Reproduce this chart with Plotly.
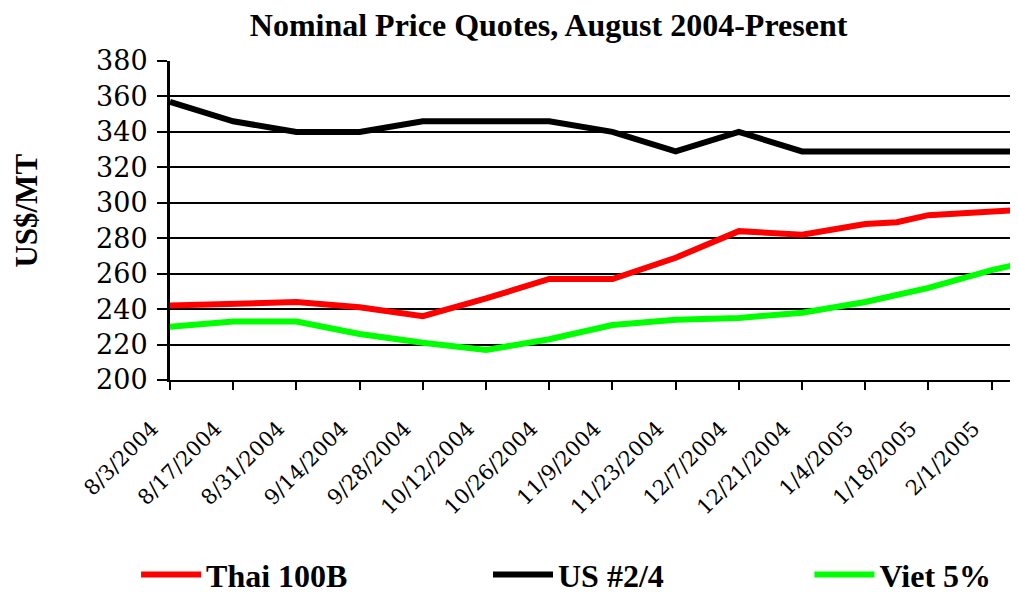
import plotly.graph_objects as go

# Data
us_dates = ["2004-08-03", "2004-08-17", "2004-08-31", "2004-09-14", "2004-09-28",
            "2004-10-12", "2004-10-26", "2004-11-09", "2004-11-23", "2004-12-07",
            "2004-12-21", "2005-01-04", "2005-01-18", "2005-02-01", "2005-02-08"]
us_values = [357, 346, 340, 340, 346, 346, 346, 340, 329, 340, 329, 329, 329, 329, 329]

thai_dates = ["2004-08-03", "2004-08-17", "2004-08-31", "2004-09-14", "2004-09-28",
              "2004-10-12", "2004-10-26", "2004-11-09", "2004-11-23", "2004-12-07",
              "2004-12-21", "2005-01-04", "2005-01-11", "2005-01-18", "2005-02-01",
              "2005-02-08"]
thai_values = [242, 243, 244, 241, 236, 246, 257, 257, 269, 284, 282, 288, 289, 293, 295, 296]

viet_dates = ["2004-08-03", "2004-08-17", "2004-08-31", "2004-09-14", "2004-09-28",
              "2004-10-12", "2004-10-26", "2004-11-09", "2004-11-23", "2004-12-07",
              "2004-12-21", "2005-01-04", "2005-01-18", "2005-02-01", "2005-02-08"]
viet_values = [230, 233, 233, 226, 221, 217, 223, 231, 234, 235, 238, 244, 252, 262, 266]

tick_dates = ["2004-08-03", "2004-08-17", "2004-08-31", "2004-09-14", "2004-09-28",
              "2004-10-12", "2004-10-26", "2004-11-09", "2004-11-23", "2004-12-07",
              "2004-12-21", "2005-01-04", "2005-01-18", "2005-02-01"]
tick_labels = ["8/3/2004", "8/17/2004", "8/31/2004", "9/14/2004", "9/28/2004",
               "10/12/2004", "10/26/2004", "11/9/2004", "11/23/2004", "12/7/2004",
               "12/21/2004", "1/4/2005", "1/18/2005", "2/1/2005"]

title_text = "Nominal Price Quotes, August 2004-Present"
y_title = "US$/MT"

FONT_BOLD = "Liberation Serif, Times New Roman, serif"
FONT_REG = "DejaVu Serif, serif"

fig = go.Figure()
fig.add_trace(go.Scatter(x=thai_dates, y=thai_values, mode="lines", name="<b>Thai 100B</b>",
                         line=dict(color="#FF0000", width=6), legend="legend"))
fig.add_trace(go.Scatter(x=us_dates, y=us_values, mode="lines", name="<b>US #2/4</b>",
                         line=dict(color="#000000", width=6), legend="legend2"))
fig.add_trace(go.Scatter(x=viet_dates, y=viet_values, mode="lines", name="<b>Viet 5%</b>",
                         line=dict(color="#00FF00", width=6), legend="legend3"))

legend_common = dict(orientation="h", yanchor="middle", y=-0.61, xanchor="left",
                      font=dict(family=FONT_BOLD, size=32, color="black"),
                      bgcolor="rgba(0,0,0,0)", itemwidth=60)

fig.update_layout(
    width=1018, height=592,
    margin=dict(l=162, r=8, t=53, b=220, autoexpand=False),
    paper_bgcolor="white", plot_bgcolor="white",
    font=dict(family=FONT_BOLD, color="black"),
    title=dict(text="<b>" + title_text + "</b>", x=0.531, xref="container", xanchor="center",
               y=0.972, yref="container", yanchor="middle",
               font=dict(family=FONT_BOLD, size=32, color="black")),
    showlegend=True,
    legend=dict(x=-0.04, **legend_common),
    legend2=dict(x=0.375, **legend_common),
    legend3=dict(x=0.754, **legend_common),
    xaxis=dict(type="date", range=["2004-08-03", "2005-02-06 20:00"],
               tickmode="array", tickvals=tick_dates, ticktext=tick_labels,
               tickangle=-45, tickfont=dict(family=FONT_REG, size=21, color="black"),
               ticks="outside", ticklen=8, tickwidth=2, tickcolor="black",
               ticklabelstandoff=18, ticklabelshift=-18,
               showline=True, linecolor="black", linewidth=2,
               showgrid=False, zeroline=False, automargin=False),
    yaxis=dict(range=[200, 380], tickmode="array", tickvals=list(range(200, 381, 20)),
               tickfont=dict(family=FONT_REG, size=27, color="black"),
               ticks="outside", ticklen=10, tickwidth=2, tickcolor="black",
               ticklabelstandoff=4,
               showline=True, linecolor="black", linewidth=3,
               showgrid=True, gridcolor="black", gridwidth=2, zeroline=False,
               automargin=False),
    annotations=[dict(text="<b>" + y_title + "</b>", textangle=-90,
                      xref="paper", yref="paper", x=-0.169, y=0.53,
                      xanchor="center", yanchor="middle", showarrow=False,
                      font=dict(family=FONT_BOLD, size=31, color="black"))],
)

fig.write_html("out.html")
